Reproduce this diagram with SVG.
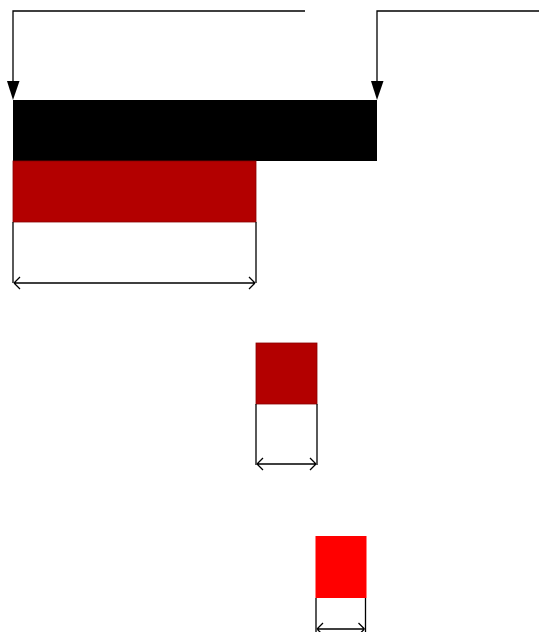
<svg xmlns="http://www.w3.org/2000/svg" width="539" height="632" viewBox="0 0 539 632">
<style>
.conn{fill:none;stroke:#000;stroke-width:1.3}
.dim{fill:none;stroke:#000;stroke-width:1.3}
</style>
<defs>
<marker id="tri" viewBox="0 0 12 20" refX="6" refY="20" markerWidth="12" markerHeight="20" markerUnits="userSpaceOnUse" orient="auto-start-reverse">
<path d="M0,0 L12,0 L6,20 Z" fill="#000" transform="rotate(0)"/>
</marker>
<marker id="open" viewBox="0 0 10 12" refX="9" refY="6" markerWidth="8" markerHeight="10" markerUnits="userSpaceOnUse" orient="auto-start-reverse">
<path d="M1,1 L9,6 L1,11" fill="none" stroke="#000" stroke-width="1.4"/>
</marker>
</defs>
<rect width="539" height="632" fill="#fff"/>
<g id="node-black"><rect x="13" y="100" width="364" height="61" fill="#000"/></g>
<g id="node-red1"><rect x="13" y="161" width="243" height="61" fill="#b30000" stroke="#8a0000" stroke-width="0.8"/></g>
<g id="node-red2"><rect x="256" y="343" width="61" height="61" fill="#b30000" stroke="#8a0000" stroke-width="0.8"/></g>
<g id="node-red3"><rect x="315.5" y="536" width="51" height="62" fill="#ff0000"/></g>
<g id="connectors">
<path class="conn" d="M305,11 H13 V81"/>
<path d="M7,81 L19.5,81 L13,100 Z" fill="#000"/>
<path class="conn" d="M539,11 H377 V81"/>
<path d="M371,81 L383.5,81 L377,100 Z" fill="#000"/>
<path class="dim" d="M13,222 V283 M256,222 V283"/>
<path class="dim" d="M14,283 H255 M14,283 L20,277 M14,283 L20,289 M255,283 L249,277 M255,283 L249,289"/>
<path class="dim" d="M256,404 V465 M317,404 V465"/>
<path class="dim" d="M257,464 H316 M257,464 L263,458 M257,464 L263,470 M316,464 L310,458 M316,464 L310,470"/>
<path class="dim" d="M316,598 V632 M365.5,598 V632"/>
<path class="dim" d="M317,629 H364.5 M317,629 L323,623 M317,629 L323,635 M364.5,629 L358.5,623 M364.5,629 L358.5,635"/>
</g>
</svg>
